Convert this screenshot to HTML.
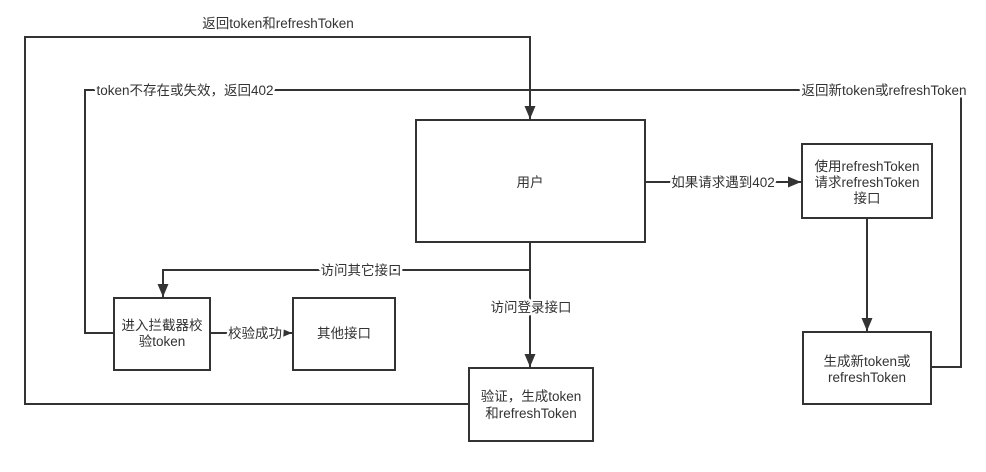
<!DOCTYPE html>
<html><head><meta charset="utf-8"><style>
body{margin:0;background:#fff;}
svg text{font-family:"Liberation Sans","Noto Sans CJK SC",sans-serif;font-size:13.5px;fill:#333;}
.l{paint-order:stroke;stroke:#fff;stroke-width:5px;stroke-linejoin:round;}
</style></head><body>
<svg width="986" height="467" viewBox="0 0 986 467" xmlns="http://www.w3.org/2000/svg">
<defs><marker id="a" markerWidth="14" markerHeight="12" refX="13" refY="6" orient="auto" markerUnits="userSpaceOnUse"><path d="M0,0.5 L13,6 L0,11.5 Z" fill="#333"/></marker></defs>
<g stroke="#333" stroke-width="2" fill="none">
<rect x="416" y="120" width="229" height="122" fill="#fff"/>
<rect x="802" y="144" width="130" height="74" fill="#fff"/>
<rect x="803" y="332" width="128" height="72" fill="#fff"/>
<rect x="114" y="298" width="96" height="72" fill="#fff"/>
<rect x="293" y="298" width="102" height="72" fill="#fff"/>
<rect x="469" y="368" width="124" height="73" fill="#fff"/>
<path d="M469,404 H25 V37 H530 V119" marker-end="url(#a)"/>
<path d="M114,333 H85 V90 H961 V367 H931"/>
<path d="M530,242 V367" marker-end="url(#a)"/>
<path d="M530,270 H163 V297" marker-end="url(#a)"/>
<path d="M210,333 H292" marker-end="url(#a)"/>
<path d="M645,182 H801" marker-end="url(#a)"/>
<path d="M867,218 V331" marker-end="url(#a)"/>
</g>
<rect x="96" y="84" width="178" height="13" fill="#fff"/>
<g text-anchor="middle">
<text class="l" x="278" y="28">返回token和refreshToken</text>
<text class="l" x="185" y="95">token不存在或失效，返回402</text>
<text class="l" x="884" y="95">返回新token或refreshToken</text>
<text class="l" x="723" y="187">如果请求遇到402</text>
<text class="l" x="361" y="275">访问其它接口</text>
<text class="l" x="531" y="312">访问登录接口</text>
<text class="l" x="255" y="338">校验成功</text>
<text x="530" y="187">用户</text>
<text x="867" y="171">使用refreshToken</text>
<text x="867" y="187">请求refreshToken</text>
<text x="867" y="203">接口</text>
<text x="867" y="366">生成新token或</text>
<text x="867" y="382">refreshToken</text>
<text x="162" y="330">进入拦截器校</text>
<text x="162" y="346">验token</text>
<text x="344" y="338">其他接口</text>
<text x="531" y="401">验证，生成token</text>
<text x="531" y="418">和refreshToken</text>
</g>
</svg>
</body></html>
